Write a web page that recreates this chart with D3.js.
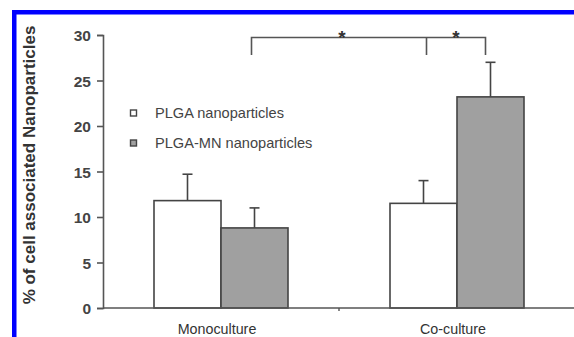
<!DOCTYPE html>
<html><head><meta charset="utf-8">
<script src="https://cdn.jsdelivr.net/npm/d3@7"></script>
<style>
html,body{margin:0;padding:0;background:#fff;}
svg{display:block;font-family:"Liberation Sans",Arial,sans-serif;}
</style></head>
<body><svg id="c" width="574" height="337"></svg>
<script>
const categories = ["Monoculture", "Co-culture"];
const seriesNames = ["PLGA nanoparticles", "PLGA-MN nanoparticles"];
const plgaValues = [11.8, 11.5];
const plgaErrors = [2.9, 2.5];
const mnValues = [8.8, 23.2];
const mnErrors = [2.2, 3.8];
const yTicks = [0, 5, 10, 15, 20, 25, 30];
const seriesFill = ["#ffffff", "#a0a0a0"];

const svg = d3.select("#c");
const W = 574, H = 337;

// blue frame (top and left)
svg.append("rect").attr("x", 12).attr("y", 10).attr("width", W - 12).attr("height", 4.5).attr("fill", "#0000ff");
svg.append("rect").attr("x", 12).attr("y", 10).attr("width", 4.5).attr("height", H - 10).attr("fill", "#0000ff");

const y = d3.scaleLinear().domain([0, 30]).range([308, 35]);
const x = d3.scaleBand().domain(categories).range([103, 575]).padding(0);
const groupW = 134;
const xs = d3.scaleBand().domain(d3.range(2))
  .range([(x.bandwidth() - groupW) / 2, (x.bandwidth() + groupW) / 2]).padding(0);

const data = [];
categories.forEach((c, i) => {
  data.push({cat: c, s: 0, v: plgaValues[i], e: plgaErrors[i]});
  data.push({cat: c, s: 1, v: mnValues[i], e: mnErrors[i]});
});
const cx = d => x(d.cat) + xs(d.s) + xs.bandwidth() / 2;

// error bars
const eg = svg.append("g").attr("stroke", "#444").attr("stroke-width", 1.6);
data.forEach(d => {
  eg.append("line").attr("x1", cx(d)).attr("x2", cx(d)).attr("y1", y(d.v)).attr("y2", y(d.v + d.e));
  eg.append("line").attr("x1", cx(d) - 5).attr("x2", cx(d) + 5).attr("y1", y(d.v + d.e)).attr("y2", y(d.v + d.e));
});

// bars
svg.append("g").selectAll("rect").data(data).join("rect")
  .attr("x", d => x(d.cat) + xs(d.s))
  .attr("y", d => y(d.v))
  .attr("width", xs.bandwidth())
  .attr("height", d => y(0) - y(d.v))
  .attr("fill", d => seriesFill[d.s])
  .attr("stroke", "#444").attr("stroke-width", 1.6);

// y axis
const yAxis = svg.append("g").attr("transform", "translate(103,0)")
  .call(d3.axisLeft(y).tickValues(yTicks).tickSize(6).tickPadding(6).tickFormat(d3.format("d")));
yAxis.select(".domain").attr("stroke", "#555").attr("stroke-width", 1.6);
yAxis.selectAll(".tick line").attr("stroke", "#555").attr("stroke-width", 1.6);
yAxis.selectAll(".tick text").attr("fill", "#444").attr("font-size", 15.5).attr("font-weight", "bold")
  .attr("font-family", "Liberation Sans, Arial, sans-serif").attr("dy", "0.36em");

// x axis
const xAxis = svg.append("g").attr("transform", "translate(0,308)");
xAxis.append("line").attr("x1", 103).attr("x2", W).attr("y1", 0).attr("y2", 0)
  .attr("stroke", "#555").attr("stroke-width", 1.6);
xAxis.selectAll(".bt").data(categories.slice(1)).join("line")
  .attr("x1", d => x(d)).attr("x2", d => x(d)).attr("y1", 0).attr("y2", 3)
  .attr("stroke", "#555").attr("stroke-width", 1.4);
xAxis.selectAll("text").data(categories).join("text")
  .attr("x", d => x(d) + x.bandwidth() / 2 - 4).attr("y", 26)
  .attr("text-anchor", "middle").attr("font-size", 14.3).attr("fill", "#333")
  .text(d => d);

// y axis title
svg.append("text")
  .attr("transform", "translate(35,165) rotate(-90)")
  .attr("text-anchor", "middle").attr("font-size", 17).attr("font-weight", "bold")
  .attr("fill", "#333")
  .text("% of cell associated Nanoparticles");

// legend
const lg = svg.append("g");
seriesNames.forEach((n, i) => {
  const yy = 113 + i * 30;
  lg.append("rect").attr("x", 130.5).attr("y", yy - 3).attr("width", 6).attr("height", 6)
    .attr("fill", seriesFill[i]).attr("stroke", "#444").attr("stroke-width", 1.4);
  lg.append("text").attr("x", 155).attr("y", yy + 5.3).attr("font-size", 14.6)
    .attr("fill", "#444").text(n);
});

// significance bracket
const xL = x(categories[0]) + xs(1) + xs.bandwidth() / 2 - 3;
const xM = x(categories[1]) + xs(0) + xs.bandwidth() / 2 + 3;
const xR = x(categories[1]) + xs(1) + xs.bandwidth() / 2 - 5;
const yB = 37.5, yT = 55;
const br = svg.append("g").attr("stroke", "#555").attr("stroke-width", 1.6).attr("fill", "none");
br.append("path").attr("d", `M${xL},${yT}V${yB}H${xR}V${yT}`);
br.append("path").attr("d", `M${xM},${yB}V${yT}`);
[(xL + xM) / 2 + 3, (xM + xR) / 2].forEach(ax => {
  svg.append("text").attr("x", ax).attr("y", 44).attr("text-anchor", "middle")
    .attr("font-size", 19).attr("font-weight", "bold").attr("fill", "#333").text("*");
});
</script></body></html>
